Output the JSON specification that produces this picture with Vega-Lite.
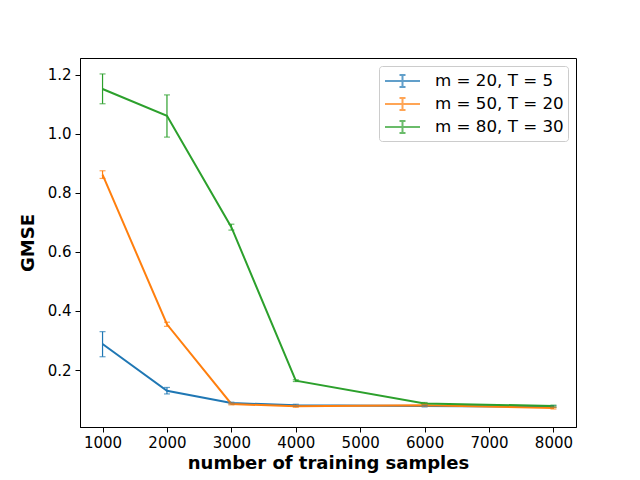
{
  "$schema": "https://vega.github.io/schema/vega-lite/v6.json",
  "autosize": "none",
  "width": 496,
  "height": 369,
  "padding": {"left": 80, "top": 58, "right": 64, "bottom": 53},
  "background": "white",
  "data": {
    "values": [
      {"series": "m = 20, T = 5", "n": 1000, "gmse": 0.288, "lo": 0.245, "hi": 0.330},
      {"series": "m = 20, T = 5", "n": 2000, "gmse": 0.130, "lo": 0.119, "hi": 0.141},
      {"series": "m = 20, T = 5", "n": 3000, "gmse": 0.088, "lo": 0.085, "hi": 0.091},
      {"series": "m = 20, T = 5", "n": 4000, "gmse": 0.081, "lo": 0.078, "hi": 0.084},
      {"series": "m = 20, T = 5", "n": 6000, "gmse": 0.078, "lo": 0.075, "hi": 0.081},
      {"series": "m = 20, T = 5", "n": 8000, "gmse": 0.076, "lo": 0.073, "hi": 0.079},
      {"series": "m = 50, T = 20", "n": 1000, "gmse": 0.862, "lo": 0.849, "hi": 0.875},
      {"series": "m = 50, T = 20", "n": 2000, "gmse": 0.355, "lo": 0.348, "hi": 0.362},
      {"series": "m = 50, T = 20", "n": 3000, "gmse": 0.085, "lo": 0.082, "hi": 0.088},
      {"series": "m = 50, T = 20", "n": 4000, "gmse": 0.077, "lo": 0.074, "hi": 0.080},
      {"series": "m = 50, T = 20", "n": 6000, "gmse": 0.081, "lo": 0.078, "hi": 0.084},
      {"series": "m = 50, T = 20", "n": 8000, "gmse": 0.071, "lo": 0.068, "hi": 0.074},
      {"series": "m = 80, T = 30", "n": 1000, "gmse": 1.152, "lo": 1.102, "hi": 1.203},
      {"series": "m = 80, T = 30", "n": 2000, "gmse": 1.061, "lo": 0.989, "hi": 1.132},
      {"series": "m = 80, T = 30", "n": 3000, "gmse": 0.684, "lo": 0.674, "hi": 0.694},
      {"series": "m = 80, T = 30", "n": 4000, "gmse": 0.164, "lo": 0.161, "hi": 0.167},
      {"series": "m = 80, T = 30", "n": 6000, "gmse": 0.087, "lo": 0.084, "hi": 0.090},
      {"series": "m = 80, T = 30", "n": 8000, "gmse": 0.078, "lo": 0.075, "hi": 0.081}
    ]
  },
  "encoding": {
    "x": {
      "field": "n",
      "type": "quantitative",
      "title": "number of training samples",
      "scale": {"domain": [650, 8350], "nice": false, "zero": false},
      "axis": {"values": [1000, 2000, 3000, 4000, 5000, 6000, 7000, 8000], "format": "d"}
    }
  },
  "layer": [
    {
      "mark": {"type": "line", "strokeWidth": 2},
      "encoding": {
        "y": {
          "field": "gmse",
          "type": "quantitative",
          "title": "GMSE",
          "scale": {"domain": [0.007, 1.257], "nice": false, "zero": false},
          "axis": {"values": [0.2, 0.4, 0.6, 0.8, 1.0, 1.2], "format": ".1f"}
        },
        "color": {
          "field": "series",
          "type": "nominal",
          "scale": {"range": ["#1f77b4", "#ff7f0e", "#2ca02c"]},
          "legend": {
            "orient": "top-right",
            "offset": 8,
            "title": null,
            "symbolType": "M-0.9,0L2.6,0M0.85,-0.6L0.85,0.6M0.55,-0.6L1.15,-0.6M0.55,0.6L1.15,0.6",
            "symbolSize": 400,
            "symbolStrokeWidth": 2,
            "labelFontSize": 16.7,
            "labelOffset": 30,
            "rowPadding": 2,
            "padding": 4,
            "fillColor": "white",
            "strokeColor": "#cccccc",
            "cornerRadius": 3
          }
        }
      }
    },
    {
      "mark": {"type": "rule", "strokeWidth": 1.2},
      "encoding": {
        "y": {"field": "lo", "type": "quantitative"},
        "y2": {"field": "hi"},
        "color": {"field": "series", "type": "nominal"}
      }
    },
    {
      "mark": {"type": "tick", "orient": "horizontal", "size": 6, "thickness": 1.2},
      "encoding": {
        "y": {"field": "lo", "type": "quantitative"},
        "color": {"field": "series", "type": "nominal"}
      }
    },
    {
      "mark": {"type": "tick", "orient": "horizontal", "size": 6, "thickness": 1.2},
      "encoding": {
        "y": {"field": "hi", "type": "quantitative"},
        "color": {"field": "series", "type": "nominal"}
      }
    }
  ],
  "config": {
    "font": "DejaVu Sans",
    "view": {"stroke": "black", "strokeWidth": 1},
    "axis": {
      "grid": false,
      "domainColor": "black",
      "tickColor": "black",
      "tickSize": 5,
      "labelFontSize": 15,
      "labelColor": "black",
      "labelFont": "DejaVu Sans",
      "titleFont": "DejaVu Sans",
      "titleFontSize": 18,
      "titleFontWeight": "bold",
      "titleColor": "black"
    },
    "axisX": {"labelPadding": 3, "titlePadding": 4},
    "axisY": {"labelPadding": 4, "titlePadding": 10},
    "legend": {"labelFont": "DejaVu Sans", "labelColor": "black"}
  }
}
